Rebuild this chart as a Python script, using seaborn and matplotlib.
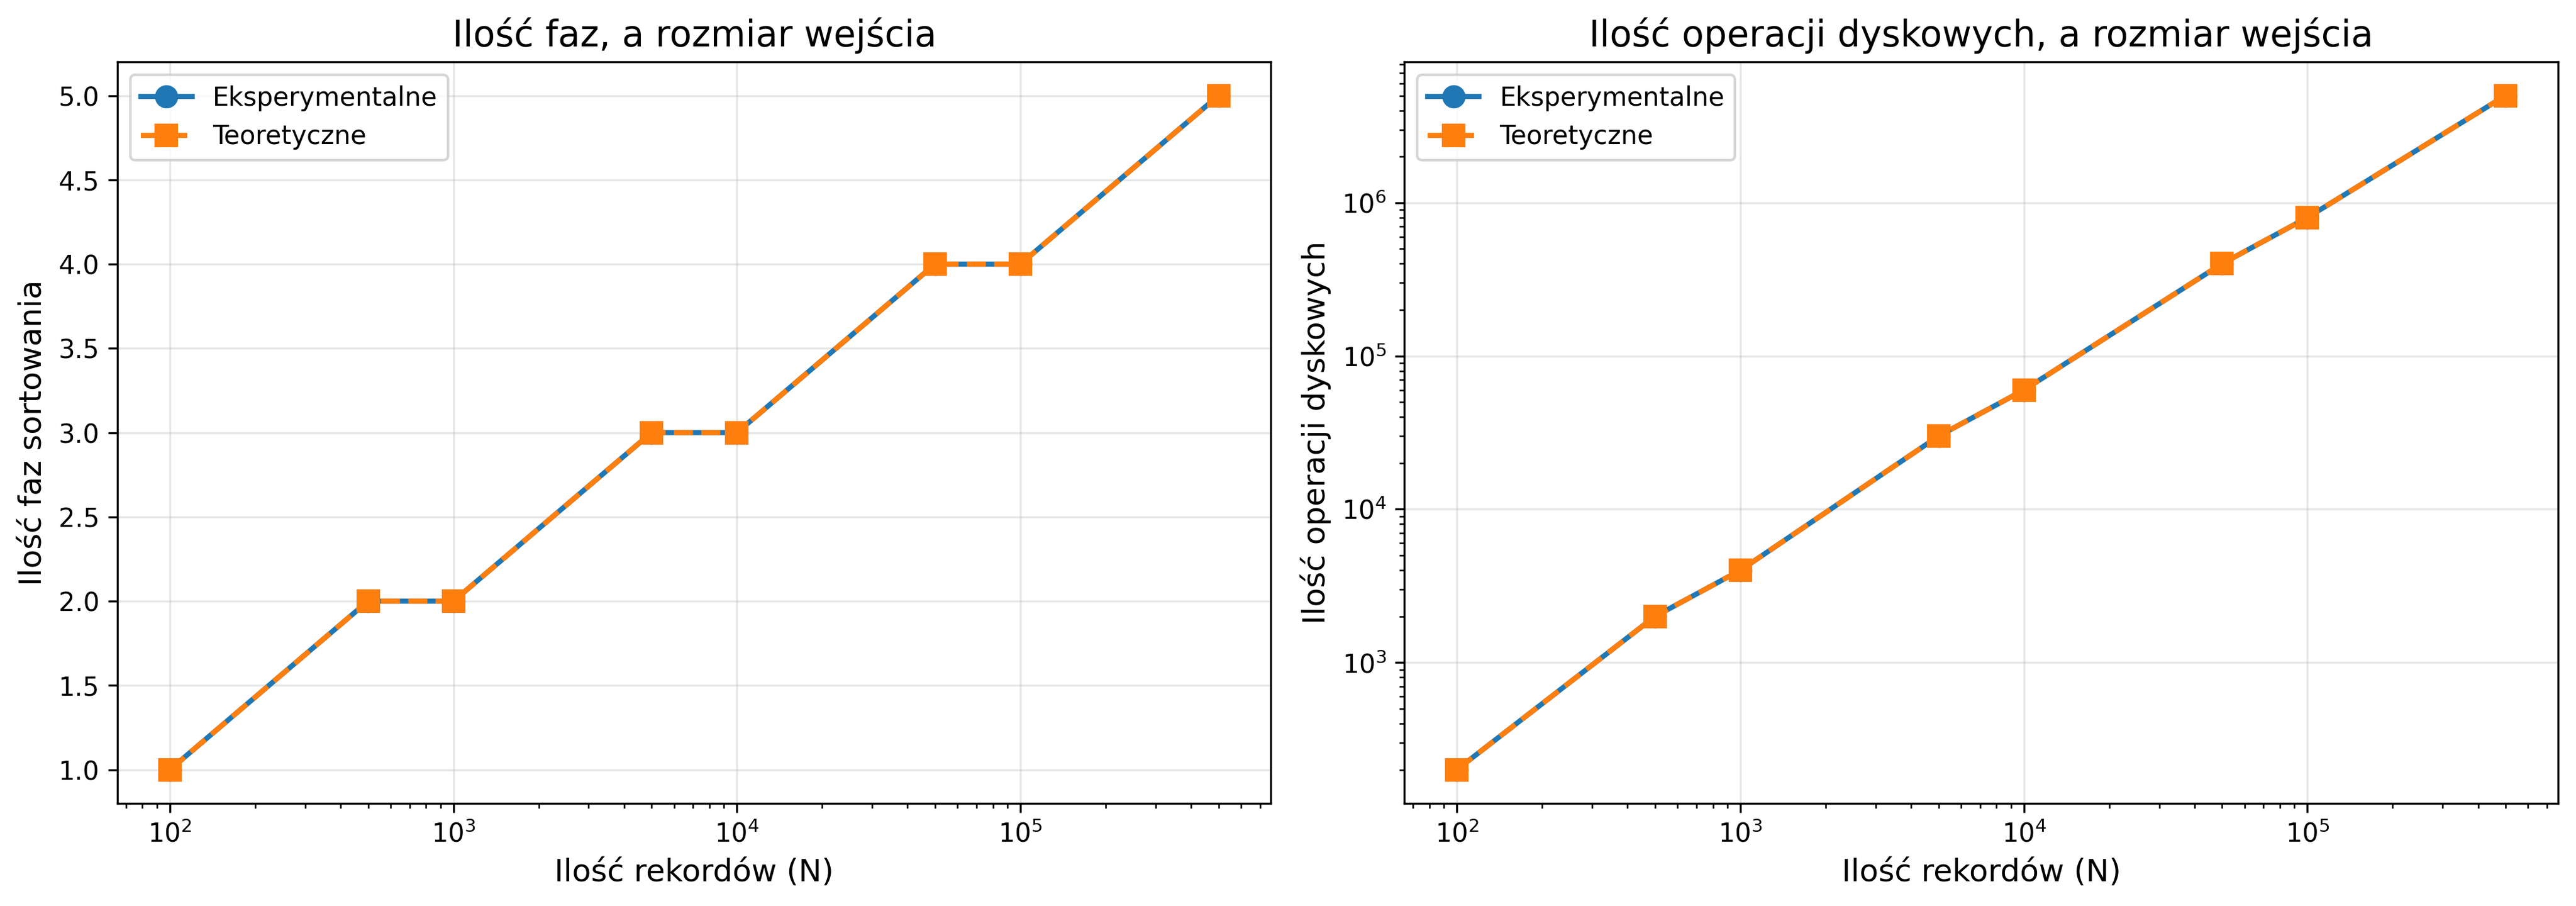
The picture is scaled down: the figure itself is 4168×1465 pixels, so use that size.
import matplotlib

matplotlib.use("Agg")
import matplotlib.pyplot as plt
import pandas as pd
import seaborn as sns

# data
N = [100, 500, 1000, 5000, 10000, 50000, 100000, 500000]
phases_exp = [1, 2, 2, 3, 3, 4, 4, 5]
phases_theory = [1, 2, 2, 3, 3, 4, 4, 5]
disk_exp = [200, 2000, 4000, 30000, 60000, 400000, 800000, 5000000]
disk_theory = [200, 2000, 4000, 30000, 60000, 400000, 800000, 5000000]

BLUE = "#1f77b4"
ORANGE = "#ff7f0e"

fig, axes = plt.subplots(1, 2, figsize=(4168 / 300, 1465 / 300))
fig.subplots_adjust(left=0.0456, right=0.993, bottom=0.1133, top=0.9317, wspace=0.1157)

panels = [
    (phases_exp, phases_theory, "Ilość faz, a rozmiar wejścia", "Ilość faz sortowania", False),
    (disk_exp, disk_theory, "Ilość operacji dyskowych, a rozmiar wejścia", "Ilość operacji dyskowych", True),
]

for ax, (exp, theo, title, ylabel, logy) in zip(axes, panels):
    df = pd.DataFrame({"N": N, "exp": exp, "theo": theo})
    sns.lineplot(data=df, x="N", y="exp", ax=ax, color=BLUE, marker="o",
                 markersize=8, linewidth=2, markeredgewidth=1,
                 markeredgecolor=BLUE, label="Eksperymentalne")
    sns.lineplot(data=df, x="N", y="theo", ax=ax, color=ORANGE, marker="s",
                 markersize=8, linewidth=2, linestyle="--", markeredgewidth=1,
                 markeredgecolor=ORANGE, label="Teoretyczne")
    ax.set_xscale("log")
    if logy:
        ax.set_yscale("log")
    ax.set_title(title, fontsize=14)
    ax.set_xlabel("Ilość rekordów (N)", fontsize=12)
    ax.set_ylabel(ylabel, fontsize=12)
    ax.grid(True, alpha=0.3)
    ax.legend(loc="upper left")

plt.savefig("out.png", dpi=300)
